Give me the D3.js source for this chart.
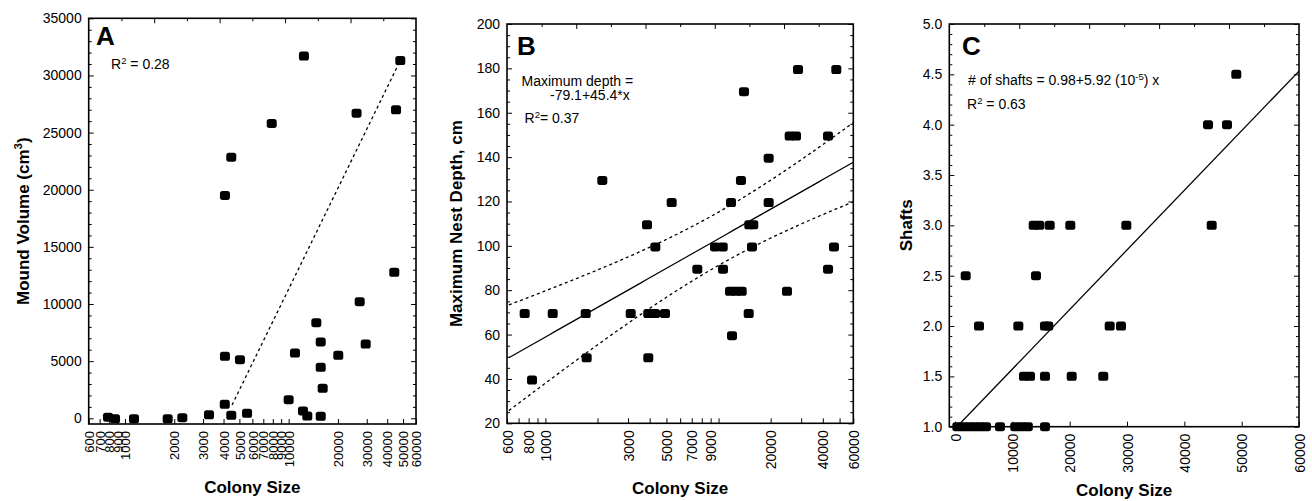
<!DOCTYPE html>
<html>
<head>
<meta charset="utf-8">
<script src="https://cdn.jsdelivr.net/npm/d3@7"></script>
<style>
  body { margin: 0; background: #fff; }
  text { font-family: "Liberation Sans", Arial, sans-serif; fill: #000; }
</style>
</head>
<body>
<div id="chart"></div>
<script>
// ---- data ----
// panel A: colony size vs mound volume (cm3)
var colonyA = [4080, 4460, 7880, 12400, 26000, 45300, 48100, 787, 869, 1135, 1823, 2240, 3260,
               4080, 4070, 4460, 5040, 5570, 10000, 10930, 12230, 13000, 14760, 15700, 15700,
               16140, 15700, 20100, 27170, 29560, 44200];
var volumeA = [19500, 22850, 25800, 31700, 26700, 27000, 31300, 100, -50, -50, -50, 50, 300,
               5425, 1225, 260, 5130, 440, 1630, 5710, 640, 200, 8370, 6680, 4460,
               2630, 180, 5510, 10200, 6500, 12780];
// dashed fit in A: volume = a + b*log10(colony)
var fitA = {a: -105971, b: 29319, from: 4510, to: 48100};

// panel B: colony size vs maximum nest depth (cm)
var colonyB = [2131, 3861, 4313, 5361, 9540, 10570, 11800, 13470, 14020, 15050, 15870, 15600,
               19470, 19470, 25750, 28000, 28760, 42870, 47870, 46400, 759, 1102, 1709, 837,
               1731, 3108, 3928, 4294, 3928, 4905, 7537, 10610, 11650, 12610, 13600, 11960,
               14930, 24840, 42870];
var depthB = [129.5, 109.5, 99.5, 119.5, 99.5, 99.5, 119.5, 129.5, 169.5, 109.5, 109.5, 99.5,
              139.5, 119.5, 149.5, 149.5, 179.5, 149.5, 179.5, 99.5, 69.5, 69.5, 69.5, 39.5,
              49.5, 69.5, 69.5, 69.5, 49.5, 69.5, 89.5, 89.5, 79.5, 79.5, 79.5, 59.5,
              69.5, 79.5, 89.5];
// regression in B (depth = a + b*log10(x)) and its confidence band
var fitB = {a: -74.0, b: 44.3, from: 615, to: 60000};
var bandB = {xbar: 4.0, h0: 12, k: 17};

// panel C: colony size vs number of shafts
var colonyC = [49060, 44130, 47440, 13720, 14700, 16510, 20110, 29880, 44770, 1860, 14120,
               4180, 11040, 15690, 16270, 26980, 28950, 12030, 13080, 15690, 20350, 25860,
               400, 1400, 2400, 3400, 4400, 5400, 7840, 10500, 11600, 12700, 15690];
var shaftsC = [4.5, 4.0, 4.0, 3.0, 3.0, 3.0, 3.0, 3.0, 3.0, 2.5, 2.5,
               2.0, 2.0, 2.0, 2.0, 2.0, 2.0, 1.5, 1.5, 1.5, 1.5, 1.5,
               1, 1, 1, 1, 1, 1, 1, 1, 1, 1, 1];
var fitC = {a: 0.98, b: 5.92e-5};

// tick values
var logTicks = [600, 700, 800, 900, 1000, 2000, 3000, 4000, 5000, 6000, 7000, 8000, 9000,
                10000, 20000, 30000, 40000, 50000, 60000];
var labelsB = [600, 800, 1000, 3000, 5000, 7000, 9000, 20000, 40000, 60000];
var ticksC = [0, 10000, 20000, 30000, 40000, 50000, 60000];
var yTicksA = d3.range(0, 35001, 5000);
var yTicksB = d3.range(20, 201, 20);
var yTicksC = d3.range(1, 5.01, 0.5);

// ---- svg ----
var svg = d3.select("#chart").append("svg")
    .attr("width", 1312)
    .attr("height", 501);

var boxes = {
  A: {l: 88.7, t: 18.3, r: 416, b: 424},
  B: {l: 507, t: 24, r: 853.3, b: 423.3},
  C: {l: 949.3, t: 24, r: 1299, b: 426.7}
};

function drawFrame(p) {
  var bx = p.box, x = p.x, y = p.y;
  var g = svg.append("g");

  // clip for the fitted lines
  g.append("clipPath").attr("id", "clip" + p.id)
    .append("rect").attr("x", bx.l).attr("y", bx.t)
    .attr("width", bx.r - bx.l).attr("height", bx.b - bx.t);

  // left axis, inward ticks
  var left = g.append("g").attr("transform", "translate(" + bx.l + ",0)")
    .call(d3.axisLeft(y).tickValues(p.yTicks).tickFormat(p.yFormat)
      .tickSize(-5).tickPadding(7).tickSizeOuter(0));
  left.attr("font-size", 14).attr("font-family", null);
  left.select(".domain").remove();
  g.append("g").attr("transform", "translate(" + bx.l + ",0)")
    .call(d3.axisLeft(y).tickValues(p.yMinor).tickFormat("").tickSize(-3).tickSizeOuter(0))
    .select(".domain").remove();

  // right axis mirrors the left ticks
  g.append("g").attr("transform", "translate(" + bx.r + ",0)")
    .call(d3.axisRight(y).tickValues(p.yTicks).tickFormat("").tickSize(-5).tickSizeOuter(0))
    .select(".domain").remove();
  g.append("g").attr("transform", "translate(" + bx.r + ",0)")
    .call(d3.axisRight(y).tickValues(p.yMinor).tickFormat("").tickSize(-3).tickSizeOuter(0))
    .select(".domain").remove();

  // bottom axis with rotated labels
  var bottom = g.append("g").attr("transform", "translate(0," + bx.b + ")")
    .call(d3.axisBottom(x).tickValues(p.xTicks)
      .tickFormat(function(d) { return p.xLabels.indexOf(d) >= 0 ? d : ""; })
      .tickSize(-5).tickSizeOuter(0));
  bottom.attr("font-size", p.xFont).attr("font-family", null);
  bottom.select(".domain").remove();
  bottom.selectAll("text")
    .attr("transform", "rotate(-90)")
    .attr("x", -7)
    .attr("y", 0)
    .attr("dy", "0.36em")
    .style("text-anchor", "end");

  // top axis: Statistica style even divisions
  var topScale = d3.scaleLinear().domain([0, 10]).range([bx.l, bx.r]);
  g.append("g").attr("transform", "translate(0," + bx.t + ")")
    .call(d3.axisTop(topScale).tickValues([2, 4, 6, 8]).tickFormat("").tickSize(-5).tickSizeOuter(0))
    .select(".domain").remove();
  g.append("g").attr("transform", "translate(0," + bx.t + ")")
    .call(d3.axisTop(topScale).tickValues([1, 3, 5, 7, 9]).tickFormat("").tickSize(-3).tickSizeOuter(0))
    .select(".domain").remove();

  // frame
  g.append("rect")
    .attr("x", bx.l).attr("y", bx.t)
    .attr("width", bx.r - bx.l).attr("height", bx.b - bx.t)
    .attr("fill", "none").attr("stroke", "#000").attr("stroke-width", 1.6);

  g.selectAll(".tick line").attr("stroke", "#000").attr("stroke-width", 1);

  // points
  g.append("g").selectAll("rect")
    .data(p.xs.map(function(v, i) { return [v, p.ys[i]]; }))
    .enter()
    .append("rect")
      .attr("x", function(d) { return x(d[0]) - 5; })
      .attr("y", function(d) { return y(d[1]) - 4.5; })
      .attr("width", 10)
      .attr("height", 9)
      .attr("rx", 2.6)
      .attr("fill", "#000");

  return g;
}

function addLine(g, id, pts, x, y, dashed) {
  var line = d3.line().x(function(d) { return x(d[0]); }).y(function(d) { return y(d[1]); });
  g.append("path")
    .attr("clip-path", "url(#clip" + id + ")")
    .attr("d", line(pts))
    .attr("fill", "none")
    .attr("stroke", "#000")
    .attr("stroke-width", dashed ? 1.3 : 1.3)
    .attr("stroke-dasharray", dashed ? "3,3" : null);
}

function minorOf(range, majors) {
  return range.filter(function(v) { return majors.indexOf(v) < 0; });
}

// ---------------- panel A ----------------
var xA = d3.scaleLog().domain([600, 60000]).range([boxes.A.l, boxes.A.r]);
var yA = d3.scaleLinear().domain([-500, 35000]).range([boxes.A.b, boxes.A.t]);
var gA = drawFrame({
  id: "A", box: boxes.A, x: xA, y: yA,
  xTicks: logTicks, xLabels: logTicks, xFont: 13,
  yTicks: yTicksA, yMinor: minorOf(d3.range(0, 35001, 1000), yTicksA),
  yFormat: d3.format("d"),
  xs: colonyA, ys: volumeA
});
var lnA = [Math.log10(fitA.from), Math.log10(fitA.to)].map(function(L) {
  return [Math.pow(10, L), fitA.a + fitA.b * L];
});
addLine(gA, "A", lnA, xA, yA, true);

// ---------------- panel B ----------------
var xB = d3.scaleLog().domain([600, 60000]).range([boxes.B.l, boxes.B.r]);
var yB = d3.scaleLinear().domain([20, 200]).range([boxes.B.b, boxes.B.t]);
var gB = drawFrame({
  id: "B", box: boxes.B, x: xB, y: yB,
  xTicks: logTicks, xLabels: labelsB, xFont: 14,
  yTicks: yTicksB, yMinor: minorOf(d3.range(20, 201, 5), yTicksB),
  yFormat: d3.format("d"),
  xs: colonyB, ys: depthB
});
var LB = d3.range(0, 61).map(function(i) {
  return Math.log10(fitB.from) + i / 60 * (Math.log10(fitB.to) - Math.log10(fitB.from));
});
function halfB(L) { return Math.sqrt(bandB.h0 * bandB.h0 + bandB.k * bandB.k * (L - bandB.xbar) * (L - bandB.xbar)); }
addLine(gB, "B", LB.map(function(L) { return [Math.pow(10, L), fitB.a + fitB.b * L]; }), xB, yB, false);
addLine(gB, "B", LB.map(function(L) { return [Math.pow(10, L), fitB.a + fitB.b * L + halfB(L)]; }), xB, yB, true);
addLine(gB, "B", LB.map(function(L) { return [Math.pow(10, L), fitB.a + fitB.b * L - halfB(L)]; }), xB, yB, true);

// ---------------- panel C ----------------
var xC = d3.scaleLinear().domain([-1000, 60000]).range([boxes.C.l, boxes.C.r]);
var yC = d3.scaleLinear().domain([1, 5]).range([boxes.C.b, boxes.C.t]);
var gC = drawFrame({
  id: "C", box: boxes.C, x: xC, y: yC,
  xTicks: ticksC, xLabels: ticksC, xFont: 14,
  yTicks: yTicksC, yMinor: minorOf(d3.range(10, 51, 1).map(function(v) { return v / 10; }), yTicksC),
  yFormat: d3.format(".1f"),
  xs: colonyC, ys: shaftsC
});
var startC = (1 - fitC.a) / fitC.b;
addLine(gC, "C", [startC, 60000].map(function(v) { return [v, fitC.a + fitC.b * v]; }), xC, yC, false);

// ---------------- texts ----------------
function label(x, y, size, weight, parts, rotate) {
  var t = svg.append("text")
    .attr("font-size", size)
    .attr("font-weight", weight);
  if (rotate) {
    t.attr("transform", "translate(" + x + "," + y + ") rotate(-90)").attr("text-anchor", "middle");
  } else {
    t.attr("x", x).attr("y", y);
  }
  var shift = 0;
  parts.forEach(function(p) {
    var sup = typeof p !== "string";
    var dy = sup ? -0.38 * size - shift : -shift;
    var s = t.append("tspan").text(sup ? p.sup : p).attr("dy", dy);
    if (sup) s.attr("font-size", size * 0.68);
    shift = sup ? -0.38 * size : 0;
  });
  return t;
}

// panel letters
label(96, 45, 26, "bold", ["A"]);
label(517, 55, 26, "bold", ["B"]);
label(962, 55, 26, "bold", ["C"]);

// annotations
label(111, 69, 14, "normal", ["R", {sup: "2"}, " = 0.28"]);
label(521.5, 86, 14, "normal", ["Maximum depth ="]);
label(550, 100, 14, "normal", ["-79.1+45.4*x"]);
label(524.5, 123, 14, "normal", ["R", {sup: "2"}, "= 0.37"]);
label(968, 85, 14, "normal", ["# of shafts = 0.98+5.92 (10", {sup: "-5"}, ") x"]);
label(967, 109, 14, "normal", ["R", {sup: "2"}, " = 0.63"]);

// axis titles
label(28.5, (boxes.A.t + boxes.A.b) / 2, 17, "bold", ["Mound Volume (cm", {sup: "3"}, ")"], true);
label(461.5, (boxes.B.t + boxes.B.b) / 2, 17, "bold", ["Maximum Nest Depth, cm"], true);
label(911.5, (boxes.C.t + boxes.C.b) / 2, 17, "bold", ["Shafts"], true);

svg.append("text").attr("x", (boxes.A.l + boxes.A.r) / 2).attr("y", 492.5)
  .attr("text-anchor", "middle").attr("font-size", 17).attr("font-weight", "bold").text("Colony Size");
svg.append("text").attr("x", (boxes.B.l + boxes.B.r) / 2).attr("y", 494)
  .attr("text-anchor", "middle").attr("font-size", 17).attr("font-weight", "bold").text("Colony Size");
svg.append("text").attr("x", (boxes.C.l + boxes.C.r) / 2).attr("y", 496)
  .attr("text-anchor", "middle").attr("font-size", 17).attr("font-weight", "bold").text("Colony Size");
</script>
</body>
</html>
